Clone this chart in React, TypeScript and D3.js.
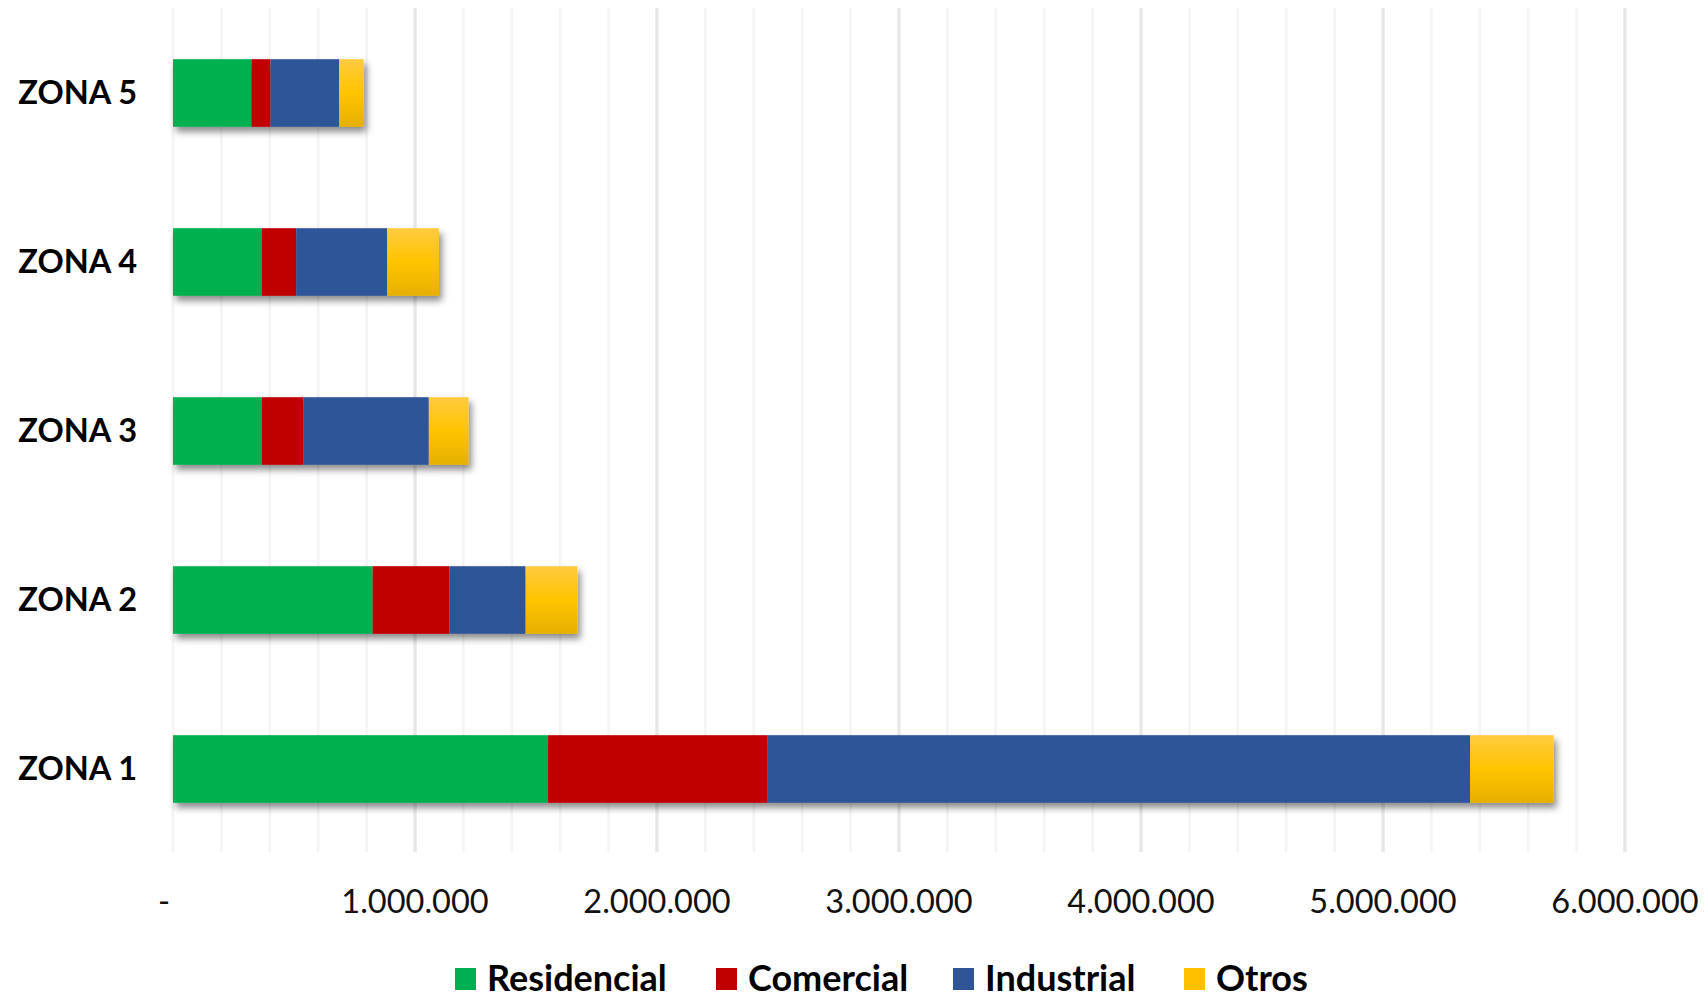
import React from "react";
import * as d3 from "d3";

const zones = ["ZONA 5", "ZONA 4", "ZONA 3", "ZONA 2", "ZONA 1"];
const seriesNames = ["Residencial", "Comercial", "Industrial", "Otros"];
const residencial = [324000, 367000, 367000, 825000, 1550000];
const comercial = [79000, 142000, 171000, 317000, 905000];
const industrial = [283000, 376000, 519000, 315000, 2905000];
const otros = [102000, 214000, 164000, 214000, 345000];
const xTicks = [0, 1000000, 2000000, 3000000, 4000000, 5000000, 6000000];
const colors = ["#00B050", "#C00000", "#2F5597", "url(#otrosGrad)"];
const legendColors = ["#00B050", "#C00000", "#2F5597", "#FFC000"];

const W = 1708;
const H = 998;
const FONT = "Lato, 'Open Sans', sans-serif";

export default function App() {
  const x = d3.scaleLinear().domain([0, 6000000]).range([173, 1625]);
  const y = d3
    .scaleBand<string>()
    .domain(zones)
    .range([8.5, 853.5])
    .paddingInner(0.6)
    .paddingOuter(0.3);

  const rows = zones.map((z, i) => ({
    zone: z,
    Residencial: residencial[i],
    Comercial: comercial[i],
    Industrial: industrial[i],
    Otros: otros[i],
  }));
  const stacked = d3.stack<any>().keys(seriesNames)(rows);

  const loc = d3.formatLocale({
    decimal: ",",
    thousands: ".",
    grouping: [3],
    currency: ["", ""],
  });
  const fmt = loc.format(",d");

  const minor = d3.range(0, 6000001, 200000);

  const legendX = [455, 716, 953, 1184];

  return (
    <svg
      width={W}
      height={H}
      style={{ position: "absolute", left: 0, top: 0, background: "#fff" }}
    >
      <defs>
        <linearGradient id="otrosGrad" x1="0" y1="0" x2="0" y2="1">
          <stop offset="0" stopColor="#FFCB40" />
          <stop offset="0.5" stopColor="#FFC400" />
          <stop offset="1" stopColor="#E6B000" />
        </linearGradient>
        <filter id="shadow" x="-5%" y="-20%" width="115%" height="160%">
          <feDropShadow dx="3" dy="5" stdDeviation="3.5" floodColor="#000" floodOpacity="0.45" />
        </filter>
      </defs>
      <rect x={0} y={0} width={W} height={H} fill="#fff" />
      <g>
        {minor.map((v) => {
          const major = v % 1000000 === 0 && v !== 0;
          return (
            <line
              key={v}
              x1={x(v)}
              x2={x(v)}
              y1={8}
              y2={852}
              stroke={major ? "#E8E8E8" : "#F4F4F4"}
              strokeWidth={major ? 3.5 : 2.5}
            />
          );
        })}
      </g>
      {zones.map((z, i) => (
        <g key={z} filter="url(#shadow)">
          {stacked.map((s, k) => (
            <rect
              key={s.key}
              x={x(s[i][0])}
              y={y(z)}
              width={x(s[i][1]) - x(s[i][0])}
              height={y.bandwidth()}
              fill={colors[k]}
            />
          ))}
        </g>
      ))}
      {zones.map((z) => (
        <text
          key={z}
          x={137}
          y={(y(z) as number) + y.bandwidth() / 2 - 2}
          textAnchor="end"
          dominantBaseline="central"
          fontFamily={FONT}
          fontWeight="bold"
          fontSize={32.5}
          fill="#000"
        >
          {z}
        </text>
      ))}
      {xTicks.map((t) => (
        <text
          key={t}
          x={t === 0 ? x(t) - 9 : x(t)}
          y={913}
          textAnchor="middle"
          fontFamily={FONT}
          fontSize={32.5}
          fill="#111"
        >
          {t === 0 ? "-" : fmt(t)}
        </text>
      ))}
      {seriesNames.map((n, k) => (
        <g key={n}>
          <rect x={legendX[k]} y={968} width={21} height={22} fill={legendColors[k]} />
          <text
            x={legendX[k] + 32}
            y={991}
            fontFamily={FONT}
            fontWeight="bold"
            fontSize={36}
            fill="#000"
          >
            {n}
          </text>
        </g>
      ))}
    </svg>
  );
}
